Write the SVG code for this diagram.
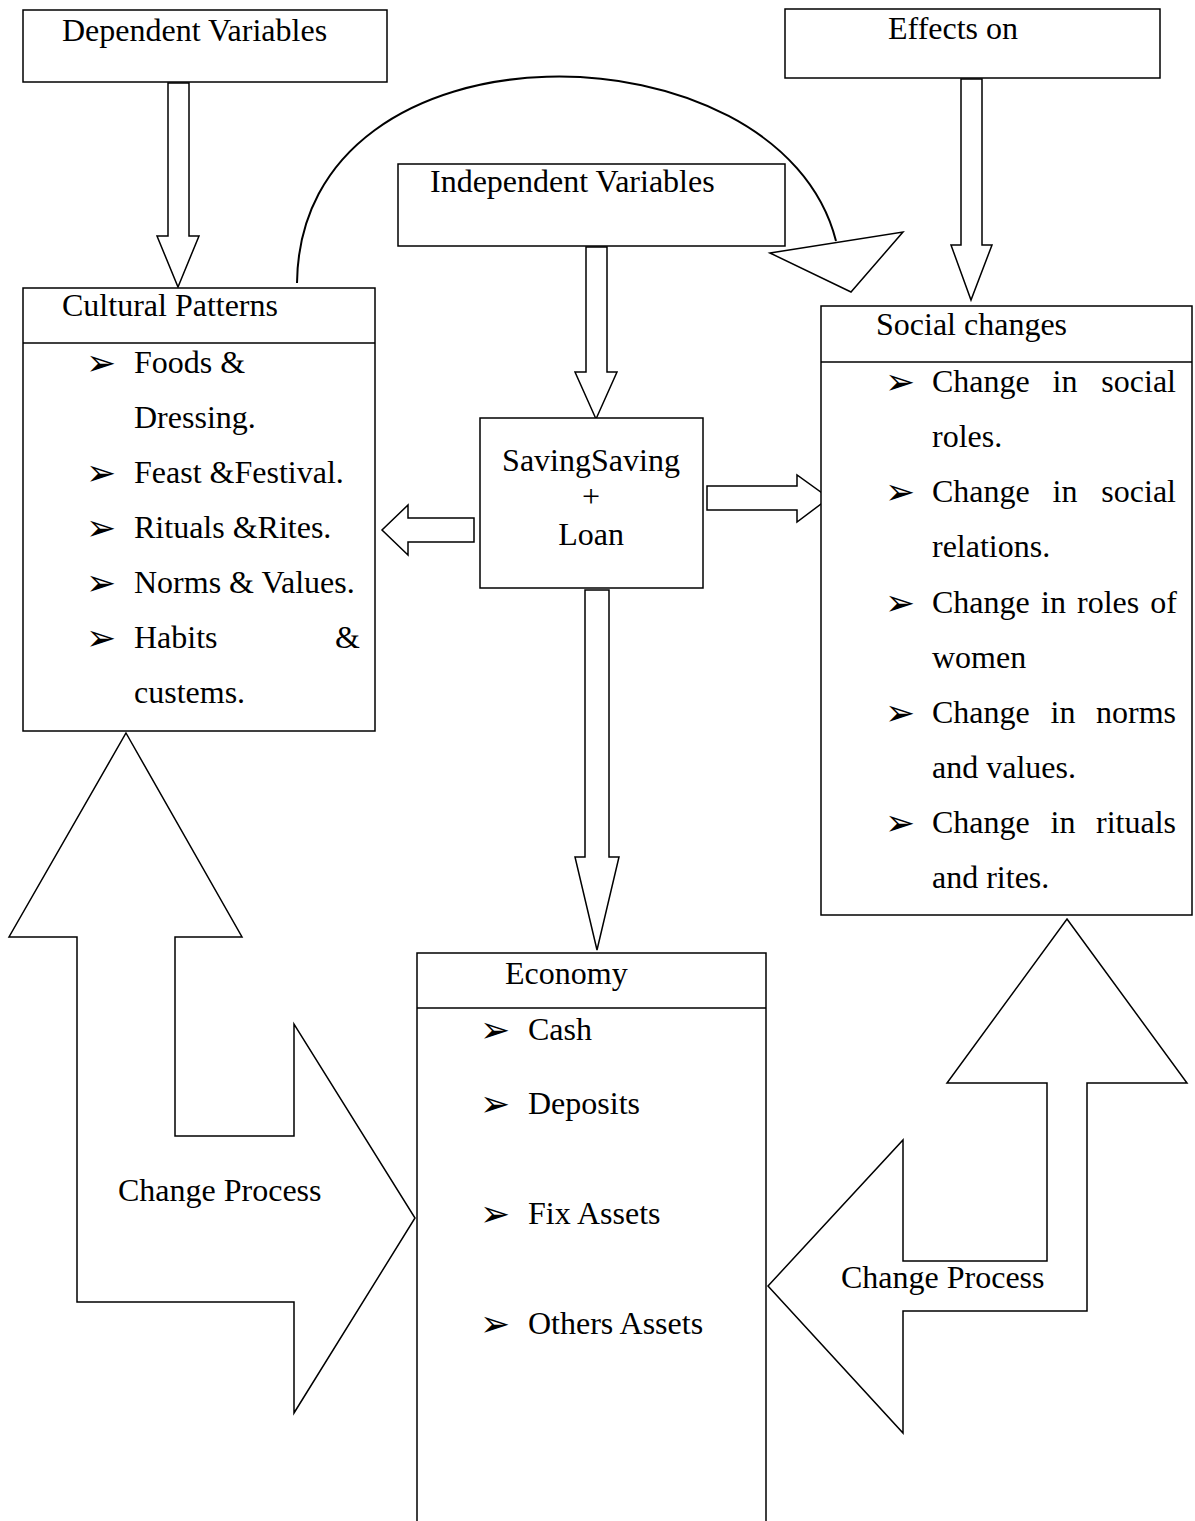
<svg xmlns="http://www.w3.org/2000/svg" width="1195" height="1521" viewBox="0 0 1195 1521">
<style>
.box{fill:#fff;stroke:#000;stroke-width:1.5}
.ln{fill:none;stroke:#000;stroke-width:1.5}
.arrow{fill:#fff;stroke:#000;stroke-width:1.5;stroke-linejoin:miter}
.arc{fill:none;stroke:#000;stroke-width:2}
text{font-family:"Liberation Serif","Times New Roman",serif;font-size:32px;fill:#000}
.bul{font-family:"DejaVu Sans",sans-serif;font-size:36px}
.mid{text-anchor:middle}
.end{text-anchor:end}
</style>
<rect width="1195" height="1521" fill="#fff"/>

<g id="connectors">
  <path class="arc" d="M297,283 C300,10 780,20 836,241"/>
  <polygon class="arrow" points="770,253 903,232 851,292"/>
  <polygon class="arrow" points="168,83 189,83 189,236 199,236 178,287 157,236 168,236"/>
  <polygon class="arrow" points="961,79 982,79 982,245 992,245 971,300 951,245 961,245"/>
  <polygon class="arrow" points="586,247 607,247 607,372 617,372 596,419 575,372 586,372"/>
  <polygon class="arrow" points="585,590 609,590 609,857 619,857 597,950 575,857 585,857"/>
  <polygon class="arrow" points="474,518 474,542 408,542 408,555 382,530 408,505 408,518"/>
  <polygon class="arrow" points="707,486 797,486 797,475 829,498 797,522 797,510 707,510"/>
  <polygon class="arrow" points="126,733 242,937 175,937 175,1136 294,1136 294,1024 415,1218 294,1413 294,1302 77,1302 77,937 9,937"/>
  <text x="118" y="1201">Change Process</text>
  <polygon class="arrow" points="1067,919 1187,1083 1087,1083 1087,1311 903,1311 903,1433 768,1286 903,1140 903,1261 1047,1261 1047,1083 947,1083"/>
  <text x="841" y="1288">Change Process</text>
</g>

<g id="dependent">
  <rect class="box" x="23" y="10" width="364" height="72"/>
  <text x="62" y="41">Dependent Variables</text>
</g>

<g id="effects">
  <rect class="box" x="785" y="9" width="375" height="69"/>
  <text x="888" y="39">Effects on</text>
</g>

<g id="independent">
  <rect class="box" x="398" y="164" width="387" height="82"/>
  <text x="430" y="192">Independent Variables</text>
</g>

<g id="cultural">
  <rect class="box" x="23" y="288" width="352" height="443"/>
  <line class="ln" x1="23" y1="343" x2="375" y2="343"/>
  <text x="62" y="316">Cultural Patterns</text>
  <text class="bul" x="86" y="375">➢</text>
  <text x="134" y="373">Foods &amp;</text>
  <text x="134" y="428">Dressing.</text>
  <text class="bul" x="86" y="485">➢</text>
  <text x="134" y="483">Feast &amp;Festival.</text>
  <text class="bul" x="86" y="540">➢</text>
  <text x="134" y="538">Rituals &amp;Rites.</text>
  <text class="bul" x="86" y="595">➢</text>
  <text x="134" y="593">Norms &amp; Values.</text>
  <text class="bul" x="86" y="650">➢</text>
  <text x="134" y="648">Habits</text>
  <text class="end" x="360" y="648">&amp;</text>
  <text x="134" y="703">custems.</text>
</g>

<g id="saving">
  <rect class="box" x="480" y="418" width="223" height="170"/>
  <text class="mid" x="591" y="471">SavingSaving</text>
  <text class="mid" x="591" y="507">+</text>
  <text class="mid" x="591" y="545">Loan</text>
</g>

<g id="social">
  <rect class="box" x="821" y="306" width="371" height="609"/>
  <line class="ln" x1="821" y1="362" x2="1192" y2="362"/>
  <text x="876" y="335">Social changes</text>
  <text class="bul" x="885" y="394">➢</text>
  <text x="932" y="392">Change</text>
  <text class="mid" x="1065" y="392">in</text>
  <text class="end" x="1176" y="392">social</text>
  <text x="932" y="447">roles.</text>
  <text class="bul" x="885" y="504">➢</text>
  <text x="932" y="502">Change</text>
  <text class="mid" x="1065" y="502">in</text>
  <text class="end" x="1176" y="502">social</text>
  <text x="932" y="557">relations.</text>
  <text class="bul" x="885" y="615">➢</text>
  <text x="932" y="613">Change</text>
  <text x="1041" y="613">in</text>
  <text x="1077" y="613">roles</text>
  <text class="end" x="1177" y="613">of</text>
  <text x="932" y="668">women</text>
  <text class="bul" x="885" y="725">➢</text>
  <text x="932" y="723">Change</text>
  <text class="mid" x="1063" y="723">in</text>
  <text class="end" x="1176" y="723">norms</text>
  <text x="932" y="778">and values.</text>
  <text class="bul" x="885" y="835">➢</text>
  <text x="932" y="833">Change</text>
  <text class="mid" x="1063" y="833">in</text>
  <text class="end" x="1176" y="833">rituals</text>
  <text x="932" y="888">and rites.</text>
</g>

<g id="economy">
  <path class="ln" d="M417,1521 V953 H766 V1521"/>
  <line class="ln" x1="417" y1="1008" x2="766" y2="1008"/>
  <text x="505" y="984">Economy</text>
  <text class="bul" x="480" y="1042">➢</text>
  <text x="528" y="1040">Cash</text>
  <text class="bul" x="480" y="1116">➢</text>
  <text x="528" y="1114">Deposits</text>
  <text class="bul" x="480" y="1226">➢</text>
  <text x="528" y="1224">Fix Assets</text>
  <text class="bul" x="480" y="1336">➢</text>
  <text x="528" y="1334">Others Assets</text>
</g>
</svg>
